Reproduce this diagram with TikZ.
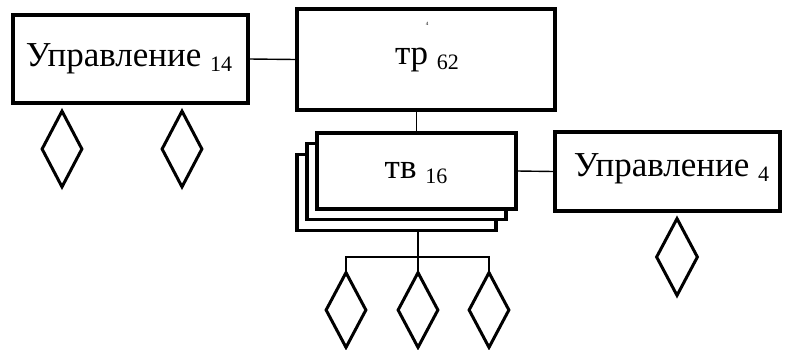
\documentclass[tikz,border=0pt]{standalone}
\usepackage{fontspec}
\setmainfont{Liberation Serif}
\newfontfamily\serifface{Liberation Serif}
\usetikzlibrary{shapes.geometric}
\begin{document}
\begin{tikzpicture}[x=1pt,y=-1pt,
  box/.style={draw,line width=3.2pt,fill=white,inner sep=0pt},
  conn/.style={line width=1.4pt},
  dia/.style={draw,diamond,line width=3pt,inner sep=0pt,minimum width=41pt,minimum height=77pt},
  lbl/.style={inner sep=0pt,anchor=base,font=\serifface\fontsize{35}{40}\selectfont}]
\useasboundingbox (0,0) rectangle (786,349);
\newcommand{\subtxt}[1]{\raisebox{-5pt}{\serifface\fontsize{22}{24}\selectfont #1}}
% boxes
\node[box,minimum width=235pt,minimum height=88pt] (u14) at (130.5,59) {};
\node[box,minimum width=258pt,minimum height=101pt] (tr) at (426,59.5) {};
\node[box,minimum width=199pt,minimum height=76pt] (tv3) at (396.5,192.5) {};
\node[box,minimum width=199pt,minimum height=76pt] (tv2) at (406.5,181.5) {};
\node[box,minimum width=199pt,minimum height=76pt] (tv) at (416.5,171) {};
\node[box,minimum width=225pt,minimum height=79pt] (u4) at (667.5,171.5) {};
% labels
\node[lbl] (t14) at (129,66) {Управление \subtxt{14}};
\node[lbl] (t62) at (427,64) {тр \subtxt{62}};
\node[font=\serifface\fontsize{5}{6}\selectfont,inner sep=0pt] (four) at (427,24) {4};
\node[lbl] (t16) at (416,178) {тв \subtxt{16}};
\node[lbl] (t4) at (671.5,176) {Управление \subtxt{4}};
% diamonds
\node[dia] (d1) at (62,149) {};
\node[dia] (d2) at (182,149) {};
\node[dia,minimum height=76pt] (b1) at (346,310) {};
\node[dia,minimum height=76pt] (b2) at (418,310) {};
\node[dia,minimum height=76pt] (b3) at (489,310) {};
\node[dia,minimum width=42pt,minimum height=78pt] (d4) at (677,257) {};
% connectors
\coordinate (j) at (418,257);
\draw[conn] (u14.east) -- (tr.west);
\draw[conn] (tv.north) -- (tv.north |- tr.south);
\draw[conn] (tv.east) -- (u4.west);
\draw[conn] (j |- tv3.south) -- (j);
\draw[conn] (b1.north) -- (b1.north |- j) -- (b3.north |- j) -- (b3.north);
\draw[conn] (j) -- (b2.north);
\end{tikzpicture}
\end{document}
